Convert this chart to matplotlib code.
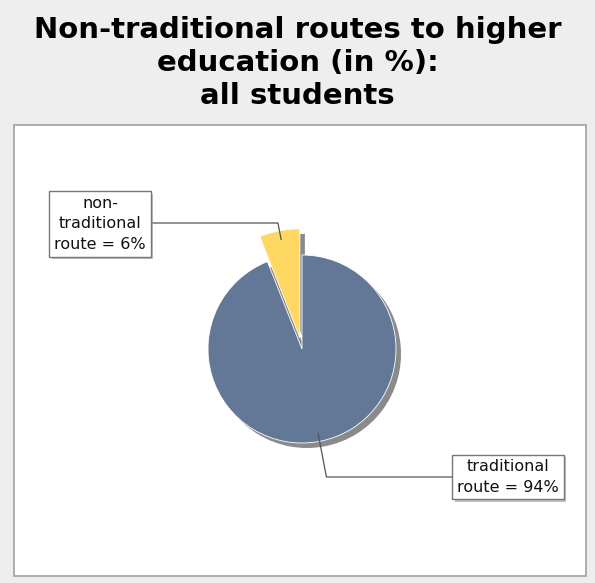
import numpy as np
import matplotlib.pyplot as plt
from matplotlib.patches import Rectangle
from matplotlib import patheffects

routes = ["traditional\nroute", "non-\ntraditional\nroute"]
shares = [94, 6]
slice_colors = ["#637896", "#FED862"]
label_boxes = [(508, 106), (100, 359)]   # label centres
label_links = [106, 360]                 # height of horizontal leader line

W, H = 595, 583
fig = plt.figure(figsize=(W / 100, H / 100), dpi=100)
fig.patch.set_facecolor("#EEEEEE")
ax = fig.add_axes([0, 0, 1, 1])

# plot area
ax.add_patch(Rectangle((14, 7), 572, 451, facecolor="white",
                       edgecolor="#A0A0A0", lw=1.2, zorder=0))

cx, cy, r = 302, 234, 94
explode = [0, 0.12]
offsets = [e * r for e in explode]

# shadow pie drawn first, offset down-right
shadows, _ = ax.pie(shares, startangle=90, counterclock=False, explode=offsets,
                    center=(cx + 5, cy - 5), radius=r, colors=["#8A8A8A", "#8A8A8A"],
                    wedgeprops=dict(linewidth=0, zorder=1), frame=True)
wedges, _ = ax.pie(shares, startangle=90, counterclock=False, explode=offsets,
                   center=(cx, cy), radius=r, colors=slice_colors,
                   wedgeprops=dict(linewidth=0.6, edgecolor="white", zorder=2),
                   frame=True)
ax.set_xlim(0, W)
ax.set_ylim(0, H)
ax.set_aspect("equal")
ax.axis("off")

# the pulled-out slice is drawn a bit larger
shadows[1].set_radius(r * 1.16)
wedges[1].set_radius(r * 1.16)

texts = []
for w, lab, val, box in zip(wedges, routes, shares, label_boxes):
    t = ax.text(box[0], box[1], f"{lab} = {val}%", ha="center", va="center",
                fontsize=11.5, linespacing=1.45, color="#111111", zorder=5,
                bbox=dict(boxstyle="square,pad=0.3", facecolor="white",
                          edgecolor="#777777", lw=1))
    t.get_bbox_patch().set_path_effects([
        patheffects.withSimplePatchShadow(offset=(2, -2), shadow_rgbFace="#999999", alpha=0.6)])
    texts.append(t)

fig.canvas.draw()
inv = ax.transData.inverted()
for w, t, ly in zip(wedges, texts, label_links):
    mid = np.deg2rad((w.theta1 + w.theta2) / 2)
    wx, wy = w.center
    anchor = (wx + 0.92 * w.r * np.cos(mid), wy + 0.92 * w.r * np.sin(mid))
    knee_x = wx + (ly - wy) / np.tan(mid)
    ext = inv.transform(t.get_bbox_patch().get_window_extent())
    edge_x = ext[1, 0] if ext[1, 0] < knee_x else ext[0, 0]
    ax.plot([anchor[0], knee_x, edge_x], [anchor[1], ly, ly],
            color="#555555", lw=0.9, zorder=4)

fig.text(0.5, 1 - 16 / H, "Non-traditional routes to higher\neducation (in %):\nall students",
         ha="center", va="top", fontsize=21, fontweight="bold", linespacing=1.22)

fig.savefig("out.png", dpi=100, facecolor=fig.get_facecolor())
